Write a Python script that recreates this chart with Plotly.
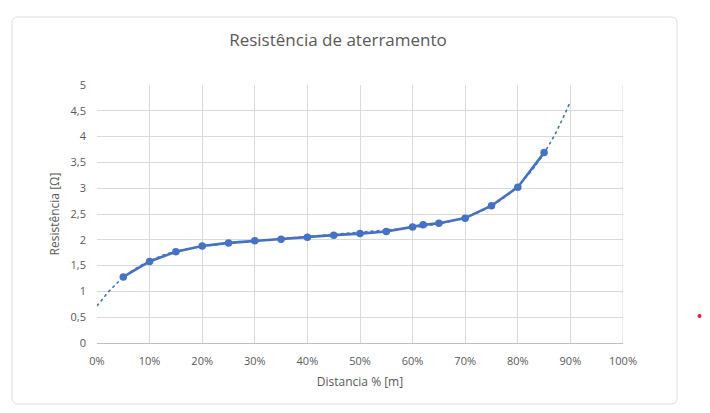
import numpy as np
import plotly.graph_objects as go

# Data
distancia = [0.05, 0.10, 0.15, 0.20, 0.25, 0.30, 0.35, 0.40, 0.45, 0.50,
             0.55, 0.60, 0.62, 0.65, 0.70, 0.75, 0.80, 0.85]
resistencia = [1.28, 1.58, 1.77, 1.88, 1.94, 1.98, 2.01, 2.05, 2.09, 2.12,
               2.16, 2.25, 2.29, 2.32, 2.42, 2.66, 3.02, 3.69]
x_ticks = [0, 0.1, 0.2, 0.3, 0.4, 0.5, 0.6, 0.7, 0.8, 0.9, 1.0]
y_ticks = [0, 0.5, 1, 1.5, 2, 2.5, 3, 3.5, 4, 4.5, 5]
trend_degree = 5
trend_span = [0.0, 0.90]

coef = np.polyfit(distancia, resistencia, trend_degree)
tx = np.linspace(trend_span[0], trend_span[1], 200)
ty = np.polyval(coef, tx)

BLUE = "#4472C4"
GRID = "#d9d9d9"
TXT = "#595959"
FONT = "Open Sans"

fig = go.Figure()
fig.add_trace(go.Scatter(x=tx, y=ty, mode="lines",
                         line=dict(color=BLUE, width=1.6, dash="dot"),
                         hoverinfo="skip", showlegend=False))
fig.add_trace(go.Scatter(x=distancia, y=resistencia, mode="lines+markers",
                         line=dict(color=BLUE, width=2.6),
                         marker=dict(color=BLUE, size=7.5),
                         showlegend=False))

OFF = 8  # page body margin of the browser
W, H = 710 - 2 * OFF, 413 - 2 * OFF
L, T = 97 - OFF, 85 - OFF
pw, ph = 526, 258
R, B = W - L - pw, H - T - ph

def px(x):
    return (x - OFF - L) / pw

def py(y):
    return (T + ph - (y - OFF)) / ph

# rounded card outline (page pixels)
cx0, cx1, cy0, cy1, rad = 12, 677, 17, 404, 6
path = (f"M {px(cx0 + rad)} {py(cy0)} L {px(cx1 - rad)} {py(cy0)} "
        f"Q {px(cx1)} {py(cy0)} {px(cx1)} {py(cy0 + rad)} "
        f"L {px(cx1)} {py(cy1 - rad)} "
        f"Q {px(cx1)} {py(cy1)} {px(cx1 - rad)} {py(cy1)} "
        f"L {px(cx0 + rad)} {py(cy1)} "
        f"Q {px(cx0)} {py(cy1)} {px(cx0)} {py(cy1 - rad)} "
        f"L {px(cx0)} {py(cy0 + rad)} "
        f"Q {px(cx0)} {py(cy0)} {px(cx0 + rad)} {py(cy0)} Z")

fig.update_layout(
    width=W, height=H,
    margin=dict(l=L, r=R, t=T, b=B),
    paper_bgcolor="white", plot_bgcolor="white",
    separators=",.",
    font=dict(family=FONT, color=TXT, size=11),
    title=dict(text="Resistência de aterramento", x=(338 - OFF) / W,
               xanchor="center", y=1 - (40 - OFF) / H, yanchor="middle",
               font=dict(family=FONT, size=17, color=TXT)),
    xaxis=dict(range=[0, 1], tickvals=x_ticks, tickformat=".0%",
               showgrid=True, gridcolor=GRID, gridwidth=1,
               zeroline=False, showline=True, linecolor="#bfbfbf", linewidth=1,
               ticks="", ticklabelstandoff=8,
               tickfont=dict(family=FONT, size=11, color=TXT),
               title=dict(text="Distancia % [m]", standoff=10,
                          font=dict(family=FONT, size=12, color=TXT))),
    yaxis=dict(range=[0, 5], tickvals=y_ticks,
               showgrid=True, gridcolor=GRID, gridwidth=1,
               zeroline=False, showline=False, ticks="",
               ticklabelstandoff=10,
               tickfont=dict(family=FONT, size=11, color=TXT),
               title=dict(text="Resistência [Ω]", standoff=8,
                          font=dict(family=FONT, size=12, color=TXT))),
    shapes=[
        dict(type="line", xref="x", yref="y", x0=1, x1=1, y0=0, y1=5,
             line=dict(color=GRID, width=1), layer="below"),
        dict(type="path", xref="paper", yref="paper", path=path,
             line=dict(color="#dcdcdc", width=1), layer="below"),
        dict(type="circle", xref="paper", yref="paper",
             x0=px(697.5), x1=px(701.5), y0=py(318), y1=py(314),
             fillcolor="#e8202a", line=dict(width=0)),
    ],
)

fig.write_html("out.html")
